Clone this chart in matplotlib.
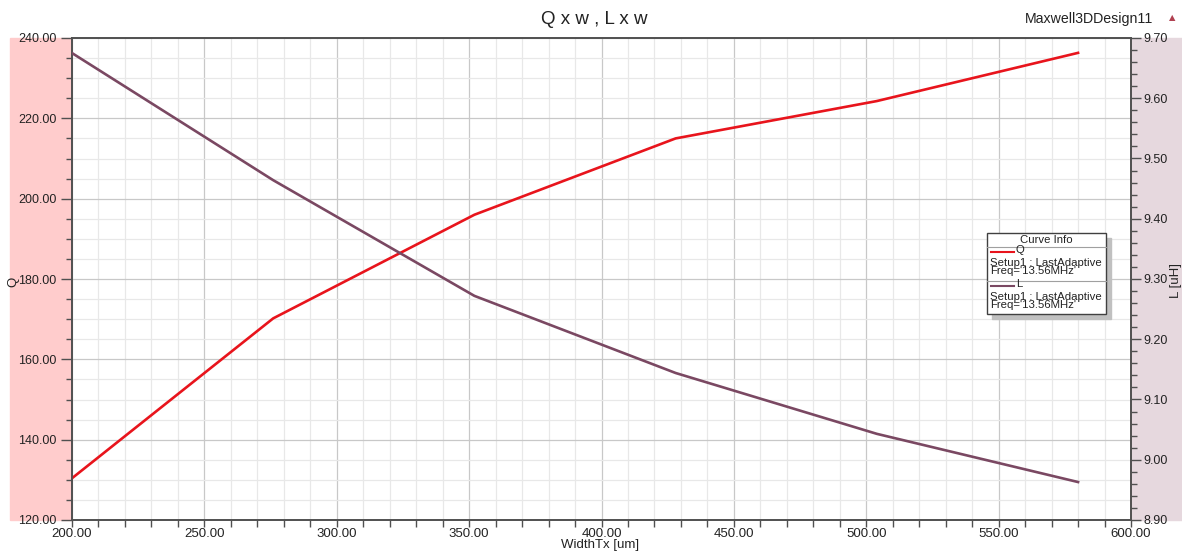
import matplotlib.pyplot as plt
from matplotlib.patches import Rectangle
from matplotlib.lines import Line2D
from matplotlib.ticker import MultipleLocator, FormatStrFormatter

plt.rcParams['font.family'] = ['Liberation Sans', 'DejaVu Sans']

# sweep of WidthTx [um]
width_tx = [200, 276, 352, 428, 504, 580]
q_values = [130.4, 170.2, 196.0, 215.0, 224.3, 236.3]
l_values = [9.675, 9.464, 9.272, 9.144, 9.043, 8.963]

q_color = '#e8141c'
l_color = '#7a4862'

fig = plt.figure(figsize=(11.82, 5.53), dpi=100)
W, H = 1182, 553


def fx(px):
    return px / W


def fy(py):
    return 1 - py / H


# coloured side panels behind the axis labels
fig.patches.append(Rectangle((fx(10), fy(520)), fx(62), fy(38) - fy(520),
                             transform=fig.transFigure, color='#ffcccc', zorder=-2))
fig.patches.append(Rectangle((fx(1131), fy(520)), fx(51), fy(38) - fy(520),
                             transform=fig.transFigure, color='#e6d8de', zorder=-2))

ax = fig.add_axes([fx(72), fy(520), fx(1131 - 72), fy(38) - fy(520)])
ax2 = ax.twinx()

ax.plot(width_tx, q_values, color=q_color, lw=1.9, zorder=3)
ax2.plot(width_tx, l_values, color=l_color, lw=1.9, zorder=3)

ax.set_xlim(200, 600)
ax.set_ylim(120, 240)
ax2.set_ylim(8.90, 9.70)

ax.xaxis.set_major_locator(MultipleLocator(50))
ax.xaxis.set_minor_locator(MultipleLocator(10))
ax.yaxis.set_major_locator(MultipleLocator(20))
ax.yaxis.set_minor_locator(MultipleLocator(5))
ax2.yaxis.set_major_locator(MultipleLocator(0.1))
ax2.yaxis.set_minor_locator(MultipleLocator(0.02))
ax.xaxis.set_major_formatter(FormatStrFormatter('%.2f'))
ax.yaxis.set_major_formatter(FormatStrFormatter('%.2f'))
ax2.yaxis.set_major_formatter(FormatStrFormatter('%.2f'))

ax.grid(which='major', color='#c8c8c8', lw=0.9)
ax.grid(which='minor', color='#e8e8e8', lw=0.9)
ax.set_axisbelow(True)

for a in (ax, ax2):
    for s in a.spines.values():
        s.set_color('#505050')
        s.set_linewidth(1.2)
    a.tick_params(which='major', length=8, width=1, color='#505050',
                  labelsize=9, labelcolor='#222222', pad=3)
    a.tick_params(which='minor', length=4, width=1, color='#505050')
ax2.tick_params(which='major', length=7, pad=2)
ax.tick_params(axis='x', which='major', length=5, pad=1, labelsize=9.5)
ax.tick_params(axis='x', which='minor', length=5)

fig.text(fx(600), fy(545), 'WidthTx [um]', ha='center', va='center',
         fontsize=9.5, color='#222222')
fig.text(fx(13), fy(282), 'Q', rotation=90, ha='center', va='center',
         fontsize=9.5, color='#222222')
fig.text(fx(1176), fy(280), 'L [uH]', rotation=90, ha='center', va='center',
         fontsize=9.5, color='#222222')

fig.text(fx(594), fy(19), 'Q x w , L x w', ha='center', va='center',
         fontsize=13.5, color='#222222')
fig.text(fx(1153), fy(19), 'Maxwell3DDesign11', ha='right', va='center',
         fontsize=10.2, color='#222222')
fig.text(fx(1172), fy(18), '\u25b2', ha='center', va='center',
         fontsize=6, color='#b04050', family=['DejaVu Sans'])

# curve info box
bx0, by0, bx1, by1 = 987, 233, 1106, 314
fig.patches.append(Rectangle((fx(bx0 + 5), fy(by1 + 5)), fx(bx1 - bx0), fy(by0) - fy(by1),
                             transform=fig.transFigure, color='#c0c0c0', zorder=5))
fig.patches.append(Rectangle((fx(bx0), fy(by1)), fx(bx1 - bx0), fy(by0) - fy(by1),
                             transform=fig.transFigure, facecolor='white',
                             edgecolor='#404040', lw=1.0, zorder=6))
fig.text(fx((bx0 + bx1) / 2), fy(240), 'Curve Info', ha='center', va='center',
         fontsize=8.2, color='#222222', zorder=7)
for yy in (247, 281):
    fig.lines.append(Line2D([fx(bx0), fx(bx1)], [fy(yy), fy(yy)],
                            transform=fig.transFigure, color='#a0a0a0', lw=0.8, zorder=7))

entries = [('Q', q_color, 252), ('L', l_color, 286)]
for name, col, y0 in entries:
    fig.lines.append(Line2D([fx(991), fx(1014)], [fy(y0), fy(y0)],
                            transform=fig.transFigure, color=col, lw=1.5, zorder=7))
    fig.text(fx(1016), fy(y0 - 2), name, ha='left', va='center',
             fontsize=8.2, color='#222222', zorder=7)
    fig.text(fx(990), fy(y0 + 11), 'Setup1 : LastAdaptive', ha='left', va='center',
             fontsize=8.2, color='#222222', zorder=7)
    fig.text(fx(990), fy(y0 + 19), "Freq='13.56MHz'", ha='left', va='center',
             fontsize=8.2, color='#222222', zorder=7)

fig.savefig('out.png', dpi=100)
